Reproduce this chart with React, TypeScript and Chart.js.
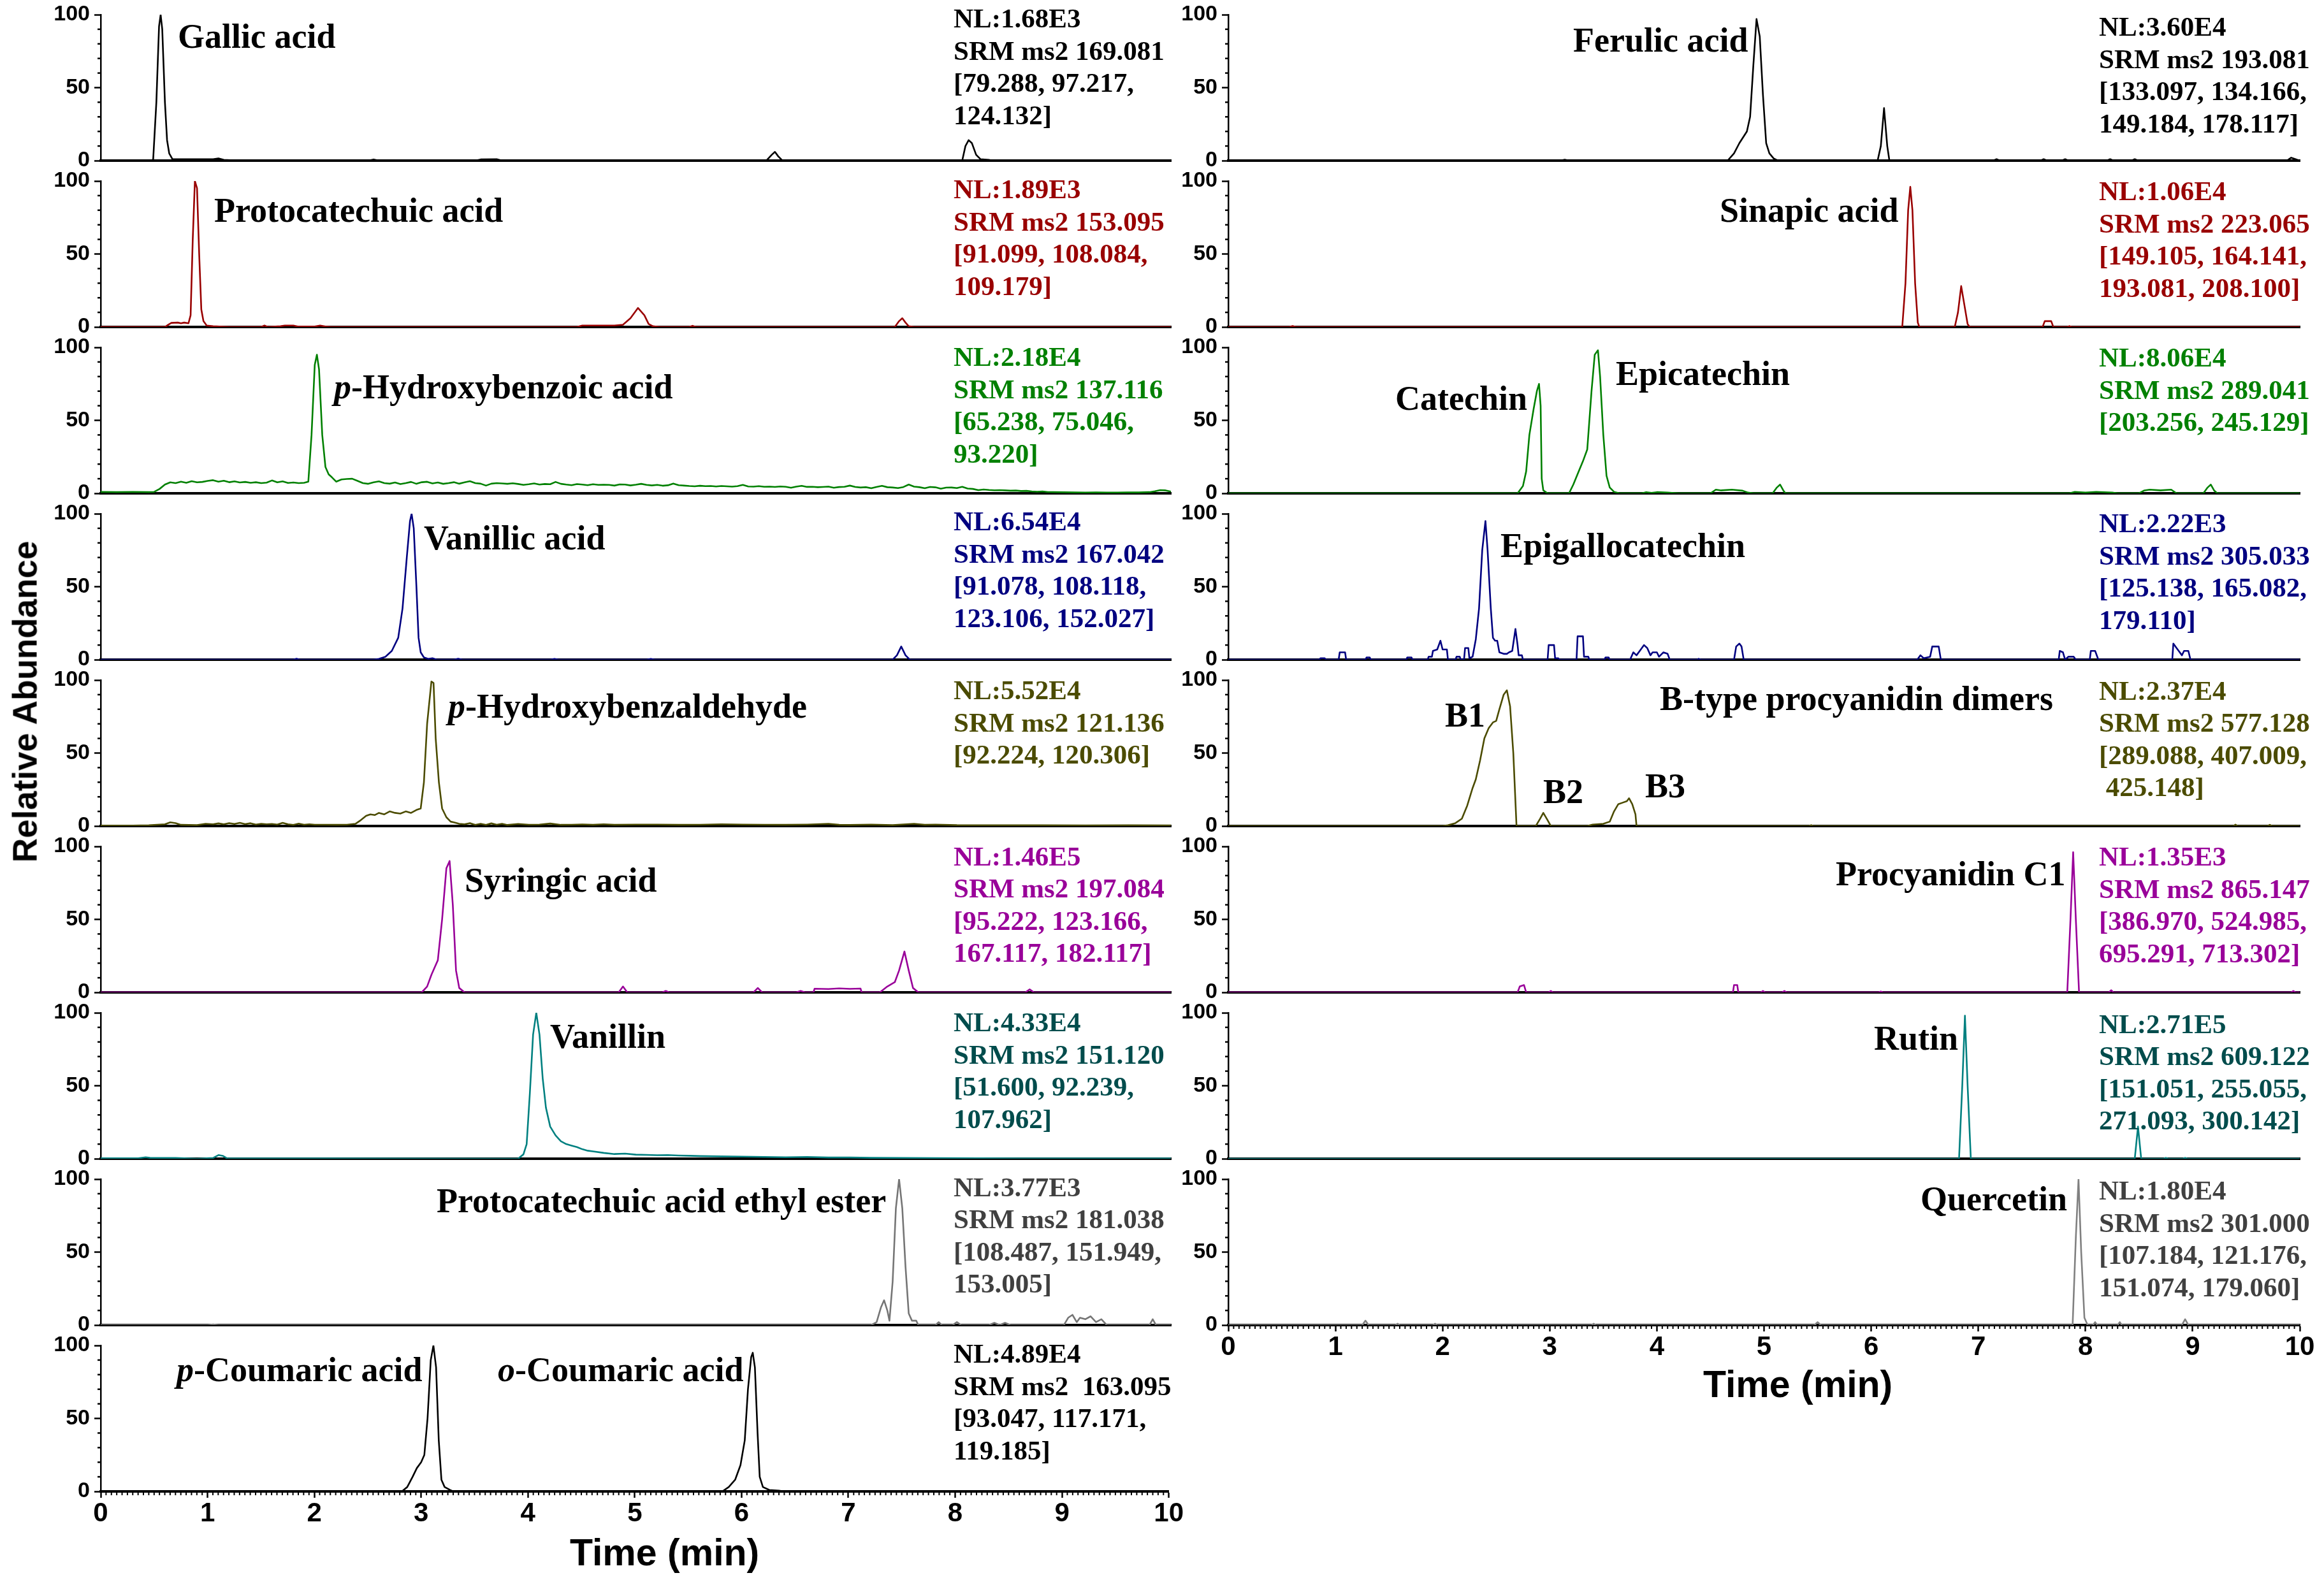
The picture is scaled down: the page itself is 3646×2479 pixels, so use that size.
import React, { useEffect, useRef } from "react";
import { Chart, registerables } from "chart.js";

Chart.register(...registerables);

type Pt = [number, number];

// ---------- DATA (retention time in min, relative abundance in %) ----------
const timeTicks = [0, 1, 2, 3, 4, 5, 6, 7, 8, 9, 10];
const abundanceTicks = [0, 50, 100];

const gallicTrace: Pt[] = [[0,0],[0.45,0],[0.49,0.5],[0.52,40],[0.545,92],[0.56,100],[0.575,90],[0.6,40],[0.62,14],[0.64,5],[0.67,1],[0.9,1],[1.05,1],[1.1,1.5],[1.15,0.5],[1.3,0],[2.5,0],[2.55,0.8],[2.6,0],[3.5,0],[3.55,0.8],[3.7,1],[3.75,0],[6.22,0],[6.27,4],[6.3,6],[6.33,3],[6.37,0],[8.05,0],[8.08,10],[8.11,14],[8.14,12],[8.18,4],[8.22,1],[8.3,0.5],[8.33,0],[10,0]];
const protocatechuicTrace: Pt[] = [[0,0],[0.6,0],[0.63,1.5],[0.66,2.8],[0.72,3],[0.75,2.5],[0.78,3],[0.82,2.5],[0.84,8],[0.86,60],[0.88,100],[0.9,95],[0.92,50],[0.94,12],[0.96,4],[0.99,1],[1.05,0.5],[1.2,0],[1.5,0],[1.53,1],[1.56,0],[1.68,0.5],[1.72,1],[1.8,1],[1.84,0.3],[2.0,0.3],[2.05,1],[2.1,0.3],[2.15,0],[4.45,0],[4.5,1],[4.8,1],[4.88,1.5],[4.95,6],[5.02,13],[5.08,8],[5.12,2],[5.16,0.5],[5.22,0],[5.5,0],[5.53,0.8],[5.56,0],[7.42,0],[7.46,4],[7.49,6],[7.52,3],[7.55,0.5],[7.6,0],[10,0]];
const pHydroxybenzoicTrace: Pt[] = [[0,1],[0.15,0.8],[0.3,1],[0.45,0.8],[0.5,1],[0.55,3],[0.6,6],[0.65,7.5],[0.7,7],[0.75,8],[0.8,7.2],[0.85,8.3],[0.9,7.5],[0.95,7.8],[1.0,8.5],[1.05,9],[1.1,8],[1.15,8.6],[1.2,7.6],[1.25,8.2],[1.3,7.4],[1.35,7.8],[1.4,7.2],[1.45,7.6],[1.5,7.0],[1.55,7.3],[1.6,8.8],[1.65,7.5],[1.7,8.2],[1.75,7.1],[1.8,7.4],[1.85,7.0],[1.9,7.2],[1.94,8],[1.97,40],[2.0,88],[2.02,95],[2.04,85],[2.07,40],[2.1,18],[2.13,13],[2.16,11],[2.2,8],[2.25,9.5],[2.3,9.8],[2.35,10],[2.4,8.5],[2.45,7],[2.5,6.5],[2.55,7.5],[2.6,8.2],[2.65,7.0],[2.7,6.6],[2.75,7.4],[2.8,6.3],[2.85,7.0],[2.9,7.8],[2.95,6.5],[3.0,7.6],[3.05,7.9],[3.1,6.8],[3.15,7.4],[3.2,6.5],[3.25,7.0],[3.3,7.6],[3.35,6.6],[3.4,7.5],[3.45,8.3],[3.5,7.0],[3.55,6.6],[3.6,5.3],[3.65,6.6],[3.7,7.0],[3.75,6.8],[3.8,6.5],[3.85,6.9],[3.9,6.4],[3.95,5.8],[4.0,6.2],[4.05,6.8],[4.1,6.0],[4.15,6.4],[4.2,6.2],[4.25,7.8],[4.3,6.5],[4.35,6.0],[4.4,5.6],[4.45,6.3],[4.5,6.0],[4.55,5.6],[4.6,6.2],[4.65,5.8],[4.7,5.9],[4.75,5.8],[4.8,5.3],[4.85,6.1],[4.9,6.0],[4.95,5.4],[5.0,5.9],[5.05,6.5],[5.1,5.8],[5.15,5.4],[5.2,5.8],[5.25,5.2],[5.3,5.5],[5.35,6.7],[5.4,5.6],[5.45,5.3],[5.5,5.0],[5.55,4.8],[5.6,5.2],[5.65,4.9],[5.7,5.0],[5.75,4.7],[5.8,5.0],[5.85,4.8],[5.9,4.6],[5.95,4.9],[6.0,5.8],[6.05,4.7],[6.1,4.6],[6.15,4.9],[6.2,4.5],[6.25,4.6],[6.3,4.4],[6.35,4.7],[6.4,4.5],[6.45,3.8],[6.5,4.6],[6.55,5.1],[6.6,4.4],[6.65,4.5],[6.7,4.2],[6.75,4.4],[6.8,4.6],[6.85,3.8],[6.9,4.3],[6.95,4.5],[7.0,5.3],[7.05,4.4],[7.1,4.0],[7.15,4.2],[7.2,3.5],[7.25,4.4],[7.3,5.1],[7.35,4.2],[7.4,4.0],[7.45,3.6],[7.5,4.3],[7.55,6.0],[7.6,4.6],[7.65,4.2],[7.7,3.5],[7.75,4.4],[7.8,4.1],[7.85,3.2],[7.9,3.9],[7.95,4.0],[8.0,3.6],[8.05,4.5],[8.1,3.3],[8.15,3.0],[8.2,2.2],[8.25,2.6],[8.3,2.3],[8.35,2.1],[8.4,2.2],[8.45,2.0],[8.5,1.8],[8.55,1.9],[8.6,1.6],[8.65,1.7],[8.7,1.3],[8.75,1.1],[8.8,1.3],[8.85,0.9],[8.9,0.8],[9.0,0.7],[9.1,0.6],[9.2,0.5],[9.3,0.6],[9.4,0.5],[9.5,0.5],[9.6,0.6],[9.7,0.6],[9.8,0.8],[9.85,1.4],[9.9,2.2],[9.95,2.0],[10,1.2]];
const vanillicTrace: Pt[] = [[0,0],[1.8,0],[1.83,0.6],[1.86,0],[2.55,0],[2.6,0.5],[2.66,2],[2.72,6],[2.78,15],[2.82,35],[2.86,70],[2.89,95],[2.905,100],[2.925,90],[2.95,50],[2.97,15],[2.99,5],[3.02,1.5],[3.06,0.5],[3.1,1],[3.14,0],[3.3,0],[3.34,0.6],[3.38,0],[4.2,0],[4.24,0.5],[4.28,0],[5.1,0],[5.14,0.5],[5.18,0],[7.4,0],[7.44,3],[7.48,9],[7.52,3],[7.56,0],[10,0]];
const pHydroxybenzaldehydeTrace: Pt[] = [[0,0.3],[0.3,0.3],[0.45,0.5],[0.6,1.2],[0.65,2.5],[0.7,2],[0.75,0.8],[0.9,0.6],[0.98,1.5],[1.05,1.2],[1.1,1.8],[1.15,1.2],[1.2,2.0],[1.25,1.4],[1.3,2.2],[1.35,1.3],[1.4,1.9],[1.45,1.0],[1.5,1.5],[1.55,1.2],[1.6,1.4],[1.65,1.0],[1.7,2.2],[1.75,1.2],[1.8,0.8],[1.85,1.6],[1.9,0.9],[1.95,1.2],[2.0,0.9],[2.1,0.9],[2.2,0.8],[2.3,0.9],[2.38,1.5],[2.43,4],[2.48,7],[2.52,8],[2.56,7.5],[2.6,9],[2.65,8],[2.7,10],[2.75,9],[2.8,8.5],[2.85,10],[2.9,9],[2.95,11],[2.99,12],[3.02,30],[3.05,70],[3.09,99],[3.11,98],[3.13,60],[3.16,30],[3.19,12],[3.23,6],[3.27,3],[3.3,2.5],[3.35,1.5],[3.4,1.2],[3.45,2],[3.5,0.8],[3.55,1.5],[3.6,0.8],[3.65,1.8],[3.7,0.9],[3.75,1.5],[3.8,0.7],[3.9,1.4],[4.0,0.9],[4.1,1.0],[4.2,1.7],[4.3,0.8],[4.4,0.9],[4.5,1.1],[4.6,0.8],[4.7,1.2],[4.8,0.8],[5.0,1.0],[5.2,1.0],[5.4,0.8],[5.6,0.9],[5.8,1.2],[6.0,1.0],[6.2,0.9],[6.4,0.8],[6.6,1.0],[6.8,1.5],[6.9,0.8],[7.0,0.7],[7.2,1.0],[7.4,0.6],[7.6,1.5],[7.7,0.8],[7.8,1.0],[8.0,0.6],[8.4,0.5],[8.8,0.5],[9.2,0.4],[9.6,0.5],[10,0.4]];
const syringicTrace: Pt[] = [[0,0],[3.0,0],[3.05,4],[3.09,12],[3.12,17],[3.15,22],[3.19,50],[3.23,85],[3.26,90],[3.29,60],[3.32,15],[3.35,3],[3.4,0],[4.84,0],[4.88,4],[4.92,0],[5.25,0],[5.28,1],[5.31,0],[6.1,0],[6.14,3],[6.18,0],[6.5,0],[6.54,1],[6.58,0],[6.66,0],[6.67,2.5],[6.8,2.3],[6.9,2.7],[7.0,2.4],[7.1,2.6],[7.11,0],[7.28,0],[7.35,4],[7.42,7],[7.46,15],[7.51,28],[7.55,15],[7.59,3],[7.64,0],[8.64,0],[8.68,2],[8.72,0],[10,0]];
const vanillinTrace: Pt[] = [[0,0.3],[0.35,0.3],[0.42,1],[0.46,0.6],[0.7,0.5],[0.9,0],[1.05,0.5],[1.1,2.5],[1.14,2],[1.18,0.3],[3.9,0],[3.95,3],[3.98,10],[4.01,45],[4.04,85],[4.07,100],[4.1,85],[4.13,55],[4.16,35],[4.2,22],[4.25,16],[4.3,12],[4.35,10],[4.4,9],[4.45,8],[4.5,6.5],[4.55,5.5],[4.6,5],[4.7,4],[4.8,3.2],[4.9,3.5],[5.0,2.8],[5.1,2.6],[5.2,2.4],[5.3,2.5],[5.4,2.2],[5.5,2.0],[5.6,1.8],[5.8,1.6],[6.0,1.4],[6.2,1.2],[6.4,1.0],[6.6,1.2],[6.8,0.8],[7.0,0.8],[7.2,0.6],[7.5,0.5],[7.8,0.4],[8.2,0.3],[8.6,0.2],[10,0.2]];
const ethylEsterTrace: Pt[] = [[0,0],[1.0,0],[1.05,0.4],[1.1,0],[7.2,0],[7.25,2],[7.29,12],[7.32,17],[7.35,10],[7.37,3],[7.4,30],[7.43,80],[7.46,100],[7.49,80],[7.52,40],[7.55,8],[7.58,3],[7.62,3],[7.64,0],[7.8,0],[7.83,2],[7.86,0],[7.96,0],[8.0,2],[8.04,0],[8.3,0],[8.35,1.5],[8.4,0],[8.45,1.5],[8.5,0],[9.0,0],[9.04,5],[9.08,7],[9.12,2],[9.15,5],[9.2,4],[9.25,6],[9.3,2],[9.35,4],[9.4,0],[9.8,0],[9.83,4],[9.86,0],[10,0]];
const coumaricTrace: Pt[] = [[0,0],[2.82,0],[2.87,3],[2.92,10],[2.96,16],[3.0,20],[3.03,25],[3.06,50],[3.09,90],[3.115,100],[3.14,85],[3.165,35],[3.19,8],[3.22,3],[3.27,1],[3.3,0],[5.82,0],[5.88,3],[5.94,8],[5.99,18],[6.03,35],[6.06,70],[6.09,92],[6.105,95],[6.125,85],[6.15,40],[6.17,10],[6.2,3],[6.26,1],[6.35,0.5],[6.4,0],[10,0]];

const ferulicTrace: Pt[] = [[0,0],[3.1,0],[3.14,0.6],[3.18,0],[4.66,0],[4.72,5],[4.77,12],[4.84,20],[4.87,30],[4.9,65],[4.93,97],[4.96,85],[4.99,45],[5.02,12],[5.05,5],[5.09,1.5],[5.13,0],[6.06,0],[6.09,10],[6.12,36],[6.15,10],[6.17,0],[7.14,0],[7.17,1],[7.2,0],[7.58,0],[7.61,1],[7.64,0],[7.78,0],[7.81,1],[7.84,0],[8.2,0],[8.23,1],[8.26,0],[8.43,0],[8.46,1],[8.49,0],[9.88,0],[9.92,2],[9.96,1],[10,0]];
const sinapicTrace: Pt[] = [[0,0],[0.57,0],[0.6,0.6],[0.63,0],[6.29,0],[6.32,30],[6.345,80],[6.365,96],[6.385,80],[6.41,30],[6.435,3],[6.45,0],[6.78,0],[6.81,10],[6.84,28],[6.87,15],[6.9,2],[6.92,0],[7.6,0],[7.62,4],[7.68,4],[7.7,0],[7.83,0],[7.85,0.6],[7.87,0],[10,0]];
const catechinTrace: Pt[] = [[0,0],[2.7,0],[2.75,5],[2.78,15],[2.81,40],[2.85,58],[2.88,70],[2.9,75],[2.915,60],[2.925,10],[2.94,2],[2.98,0],[3.18,0],[3.22,6],[3.27,15],[3.31,22],[3.35,30],[3.39,70],[3.42,95],[3.45,98],[3.47,80],[3.5,40],[3.53,12],[3.56,4],[3.6,1],[3.65,0],[3.86,0],[3.9,0.8],[3.95,0.3],[4.0,0.8],[4.1,0.5],[4.2,0],[4.5,0],[4.55,2.5],[4.6,2],[4.7,2.5],[4.8,1.8],[4.85,0.5],[4.9,0],[5.08,0],[5.12,4],[5.15,6],[5.18,2],[5.2,0],[7.85,0],[7.9,1],[8.0,0.5],[8.1,1],[8.25,0.5],[8.3,0],[8.5,0],[8.55,2],[8.6,2.5],[8.7,2],[8.8,2.5],[8.85,0],[9.1,0],[9.14,4],[9.17,6],[9.2,2],[9.23,0],[10,0]];
const epigallocatechinTrace: Pt[] = [[0,0],[0.85,0],[0.86,1],[0.9,1],[0.91,0],[1.03,0],[1.04,5],[1.09,5],[1.1,0],[1.28,0],[1.29,1.5],[1.32,1.5],[1.33,0],[1.66,0],[1.67,1.5],[1.71,1.5],[1.72,0],[1.86,0],[1.87,2],[1.9,2],[1.91,6],[1.95,7],[1.98,13],[2.0,7],[2.04,7],[2.05,0],[2.12,0],[2.13,2],[2.16,2],[2.17,0],[2.2,0],[2.21,8],[2.24,8],[2.25,1],[2.28,2],[2.31,14],[2.34,35],[2.37,75],[2.4,95],[2.42,75],[2.45,35],[2.47,15],[2.49,13],[2.51,13],[2.53,5],[2.57,4],[2.6,4],[2.62,5],[2.65,6],[2.68,21],[2.7,10],[2.71,3],[2.74,3],[2.75,0],[2.98,0],[2.99,10],[3.04,10],[3.05,1],[3.08,1],[3.09,0],[3.25,0],[3.26,16],[3.31,16],[3.32,2],[3.36,2],[3.37,0],[3.51,0],[3.52,1.5],[3.55,1.5],[3.56,0],[3.75,0],[3.78,5],[3.81,3],[3.85,7],[3.88,10],[3.91,8],[3.94,3],[3.96,5],[4.0,5],[4.02,2],[4.06,5],[4.1,4],[4.12,0],[4.38,0],[4.39,0.6],[4.41,0],[4.72,0],[4.74,9],[4.77,11],[4.79,9],[4.81,0],[6.43,0],[6.46,3],[6.49,1],[6.55,2],[6.57,9],[6.63,9],[6.65,0],[7.75,0],[7.76,6],[7.79,5],[7.81,0],[7.84,2],[7.89,2],[7.91,0],[8.04,0],[8.05,6],[8.09,6],[8.12,0],[8.81,0],[8.82,11],[8.85,8],[8.87,6],[8.9,3],[8.92,6],[8.96,6],[8.98,0],[10,0]];
const procyanidinBTrace: Pt[] = [[0,0],[2.0,0],[2.05,0.5],[2.12,2],[2.18,5],[2.23,14],[2.28,26],[2.31,32],[2.35,45],[2.39,60],[2.43,67],[2.47,71],[2.5,72],[2.53,80],[2.57,90],[2.6,93],[2.63,82],[2.66,50],[2.69,0],[2.87,0],[2.91,5],[2.94,9],[2.98,4],[3.01,0],[3.35,0],[3.4,1],[3.5,1.5],[3.56,3],[3.6,10],[3.64,15],[3.68,16],[3.72,17],[3.74,19],[3.77,15],[3.8,8],[3.81,0],[5.42,0],[5.44,0.6],[5.46,0],[9.38,0],[9.4,1],[9.42,0],[9.7,0],[9.72,0.8],[9.74,0],[10,0]];
const procyanidinC1Trace: Pt[] = [[0,0],[2.7,0],[2.72,4],[2.76,5],[2.78,0],[2.99,0],[3.01,1],[3.03,0],[4.71,0],[4.72,5],[4.75,5],[4.76,0],[4.97,0],[4.99,1],[5.01,0],[5.17,0],[5.19,1],[5.21,0],[6.07,0],[6.09,0.6],[6.11,0],[7.83,0],[7.86,50],[7.885,96],[7.91,50],[7.94,0],[8.22,0],[8.24,1.5],[8.26,0],[9.92,0],[9.94,1],[9.96,0],[10,0]];
const rutinTrace: Pt[] = [[0,0],[6.82,0],[6.85,50],[6.875,98],[6.9,50],[6.93,0],[8.46,0],[8.49,22],[8.52,0],[8.73,0],[8.75,0.6],[8.77,0],[8.91,0],[8.93,0.6],[8.95,0],[10,0]];
const quercetinTrace: Pt[] = [[0,0],[1.25,0],[1.28,3],[1.31,0],[1.56,0],[1.58,1],[1.6,0],[1.91,0],[1.93,1],[1.95,0],[3.39,0],[3.41,1],[3.43,0],[5.47,0],[5.5,2],[5.53,0],[7.88,0],[7.91,60],[7.935,100],[7.96,50],[7.99,5],[8.02,0],[8.07,0],[8.09,2],[8.11,0],[8.3,0],[8.32,2],[8.34,0],[8.9,0],[8.93,4],[8.96,0],[10,0]];

// ---------- LAYOUT ----------
const PAGE_W = 3646;
const PAGE_H = 2479;
const COL_X = [158, 1927];
const COL_W = [1679, 1681];
const INFO_X = [1496, 3293];
const ROW_TOP = 22.5;
const ROW_STEP = 261.1;
const PLOT_H = 229;
const YW = 110;
const PT = 30;
const SERIF = "'Liberation Serif', 'Times New Roman', serif";
const SANS = "'Liberation Sans', Arial, Helvetica, sans-serif";

type Label = { text: string; x: number; y: number; pre?: string };
type PanelSpec = {
  col: number;
  row: number;
  trace: Pt[];
  color: string;
  textColor: string;
  info: string[];
  infoDy: number;
  labels: Label[];
  bottom?: boolean;
};

const panels: PanelSpec[] = [
  { col: 0, row: 0, trace: gallicTrace, color: "#000000", textColor: "#000000", infoDy: 20,
    info: ["NL:1.68E3", "SRM ms2 169.081", "[79.288, 97.217,", "124.132]"],
    labels: [{ text: "Gallic acid", x: 279, y: 74 }] },
  { col: 0, row: 1, trace: protocatechuicTrace, color: "#990000", textColor: "#990000", infoDy: 27,
    info: ["NL:1.89E3", "SRM ms2 153.095", "[91.099, 108.084,", "109.179]"],
    labels: [{ text: "Protocatechuic acid", x: 336, y: 348 }] },
  { col: 0, row: 2, trace: pHydroxybenzoicTrace, color: "#008000", textColor: "#008000", infoDy: 29,
    info: ["NL:2.18E4", "SRM ms2 137.116", "[65.238, 75.046,", "93.220]"],
    labels: [{ pre: "p", text: "-Hydroxybenzoic acid", x: 524, y: 625 }] },
  { col: 0, row: 3, trace: vanillicTrace, color: "#000080", textColor: "#000080", infoDy: 26,
    info: ["NL:6.54E4", "SRM ms2 167.042", "[91.078, 108.118,", "123.106, 152.027]"],
    labels: [{ text: "Vanillic acid", x: 665, y: 862 }] },
  { col: 0, row: 4, trace: pHydroxybenzaldehydeTrace, color: "#4b4b00", textColor: "#4b4b00", infoDy: 30,
    info: ["NL:5.52E4", "SRM ms2 121.136", "[92.224, 120.306]"],
    labels: [{ pre: "p", text: "-Hydroxybenzaldehyde", x: 703, y: 1126 }] },
  { col: 0, row: 5, trace: syringicTrace, color: "#990099", textColor: "#990099", infoDy: 29.5,
    info: ["NL:1.46E5", "SRM ms2 197.084", "[95.222, 123.166,", "167.117, 182.117]"],
    labels: [{ text: "Syringic acid", x: 729, y: 1399 }] },
  { col: 0, row: 6, trace: vanillinTrace, color: "#008080", textColor: "#004c4c", infoDy: 29,
    info: ["NL:4.33E4", "SRM ms2 151.120", "[51.600, 92.239,", "107.962]"],
    labels: [{ text: "Vanillin", x: 863, y: 1644 }] },
  { col: 0, row: 7, trace: ethylEsterTrace, color: "#757575", textColor: "#404040", infoDy: 26.5,
    info: ["NL:3.77E3", "SRM ms2 181.038", "[108.487, 151.949,", "153.005]"],
    labels: [{ text: "Protocatechuic acid ethyl ester", x: 685, y: 1902 }] },
  { col: 0, row: 8, trace: coumaricTrace, color: "#000000", textColor: "#000000", infoDy: 27, bottom: true,
    info: ["NL:4.89E4", "SRM ms2  163.095", "[93.047, 117.171,", "119.185]"],
    labels: [{ pre: "p", text: "-Coumaric acid", x: 277, y: 2167 }, { pre: "o", text: "-Coumaric acid", x: 781, y: 2167 }] },

  { col: 1, row: 0, trace: ferulicTrace, color: "#000000", textColor: "#000000", infoDy: 33,
    info: ["NL:3.60E4", "SRM ms2 193.081", "[133.097, 134.166,", "149.184, 178.117]"],
    labels: [{ text: "Ferulic acid", x: 2468, y: 80 }] },
  { col: 1, row: 1, trace: sinapicTrace, color: "#990000", textColor: "#990000", infoDy: 30,
    info: ["NL:1.06E4", "SRM ms2 223.065", "[149.105, 164.141,", "193.081, 208.100]"],
    labels: [{ text: "Sinapic acid", x: 2698, y: 348 }] },
  { col: 1, row: 2, trace: catechinTrace, color: "#008000", textColor: "#008000", infoDy: 30,
    info: ["NL:8.06E4", "SRM ms2 289.041", "[203.256, 245.129]"],
    labels: [{ text: "Catechin", x: 2189, y: 643 }, { text: "Epicatechin", x: 2535, y: 604 }] },
  { col: 1, row: 3, trace: epigallocatechinTrace, color: "#000080", textColor: "#000080", infoDy: 29,
    info: ["NL:2.22E3", "SRM ms2 305.033", "[125.138, 165.082,", "179.110]"],
    labels: [{ text: "Epigallocatechin", x: 2354, y: 874 }] },
  { col: 1, row: 4, trace: procyanidinBTrace, color: "#4b4b00", textColor: "#4b4b00", infoDy: 30.5,
    info: ["NL:2.37E4", "SRM ms2 577.128", "[289.088, 407.009,", " 425.148]"],
    labels: [{ text: "B1", x: 2267, y: 1140 }, { text: "B-type procyanidin dimers", x: 2604, y: 1114 }, { text: "B2", x: 2421, y: 1260 }, { text: "B3", x: 2581, y: 1251 }] },
  { col: 1, row: 5, trace: procyanidinC1Trace, color: "#990099", textColor: "#990099", infoDy: 30,
    info: ["NL:1.35E3", "SRM ms2 865.147", "[386.970, 524.985,", "695.291, 713.302]"],
    labels: [{ text: "Procyanidin C1", x: 2880, y: 1389 }] },
  { col: 1, row: 6, trace: rutinTrace, color: "#008080", textColor: "#004c4c", infoDy: 31.5,
    info: ["NL:2.71E5", "SRM ms2 609.122", "[151.051, 255.055,", "271.093, 300.142]"],
    labels: [{ text: "Rutin", x: 2940, y: 1647 }] },
  { col: 1, row: 7, trace: quercetinTrace, color: "#808080", textColor: "#404040", infoDy: 32, bottom: true,
    info: ["NL:1.80E4", "SRM ms2 301.000", "[107.184, 121.176,", "151.074, 179.060]"],
    labels: [{ text: "Quercetin", x: 3013, y: 1899 }] },
];

function PanelChart({ spec }: { spec: PanelSpec }) {
  const ref = useRef<HTMLCanvasElement>(null);
  const plotLeft = COL_X[spec.col];
  const plotW = COL_W[spec.col];
  const plotTop = ROW_TOP + spec.row * ROW_STEP;
  const rp = spec.col === 0 ? 20 : PAGE_W - (plotLeft + plotW);
  const xh = spec.bottom ? 72 : 30;
  const left = plotLeft - YW;
  const top = plotTop - PT;
  const cw = YW + plotW + rp;
  const ch = PT + PLOT_H + xh;

  useEffect(() => {
    const canvas = ref.current;
    if (!canvas) return;
    const decor = {
      id: "decor",
      afterDraw(chart: any) {
        const { ctx, chartArea, scales } = chart;
        ctx.save();
        ctx.strokeStyle = "#000";
        ctx.lineWidth = 2.5;
        const ys = scales.y;
        for (let v = 10; v < 100; v += 10) {
          if (v === 50) continue;
          const y = ys.getPixelForValue(v);
          ctx.beginPath();
          ctx.moveTo(chartArea.left - 5, y);
          ctx.lineTo(chartArea.left, y);
          ctx.stroke();
        }
        if (spec.bottom) {
          const xs = scales.x;
          ctx.lineWidth = 2;
          for (let k = 1; k < 200; k++) {
            if (k % 20 === 0) continue;
            const x = xs.getPixelForValue(k / 20);
            ctx.beginPath();
            ctx.moveTo(x, chartArea.bottom);
            ctx.lineTo(x, chartArea.bottom + 6);
            ctx.stroke();
          }
        }
        ctx.textAlign = "left";
        ctx.textBaseline = "alphabetic";
        ctx.fillStyle = "#000";
        for (const lb of spec.labels) {
          let x = lb.x - left;
          const y = lb.y - top;
          if (lb.pre) {
            ctx.font = `italic bold 54px ${SERIF}`;
            ctx.fillText(lb.pre, x, y);
            x += ctx.measureText(lb.pre).width;
          }
          ctx.font = `bold 54px ${SERIF}`;
          ctx.fillText(lb.text, x, y);
        }
        ctx.fillStyle = spec.textColor;
        ctx.font = `bold 43px ${SERIF}`;
        spec.info.forEach((line, i) => {
          ctx.fillText(line, INFO_X[spec.col] - left, plotTop + spec.infoDy + i * 50.5 - top);
        });
        ctx.restore();
      },
    };

    const chart = new Chart(canvas, {
      type: "line",
      data: {
        datasets: [
          {
            data: spec.trace.map(([x, y]) => ({ x, y })),
            borderColor: spec.color,
            borderWidth: 2.6,
            pointRadius: 0,
            fill: false,
            tension: 0,
            borderJoinStyle: "round",
          } as any,
        ],
      },
      options: {
        animation: false,
        responsive: false,
        maintainAspectRatio: false,
        devicePixelRatio: 1,
        events: [],
        layout: { padding: { top: PT, right: rp, left: 0, bottom: 0 } },
        plugins: { legend: { display: false }, tooltip: { enabled: false }, title: { display: false } },
        scales: {
          x: {
            type: "linear",
            min: 0,
            max: 10,
            afterFit: (s: any) => { s.height = xh; },
            border: { display: true, color: "#000", width: 4 },
            grid: { display: !!spec.bottom, drawOnChartArea: false, drawTicks: !!spec.bottom, tickLength: 10, tickWidth: 2.5, tickColor: "#000" },
            afterBuildTicks: (s: any) => { s.ticks = timeTicks.map((v) => ({ value: v })); },
            ticks: {
              display: !!spec.bottom,
              autoSkip: false,
              maxRotation: 0,
              padding: 0,
              color: "#000",
              font: { family: SANS, size: 42, weight: "bold" },
            },
          },
          y: {
            min: 0,
            max: 100,
            afterFit: (s: any) => { s.width = YW; },
            border: { display: true, color: "#000", width: 2.5 },
            grid: { drawOnChartArea: false, drawTicks: true, tickLength: 10, tickWidth: 2.5, tickColor: "#000" },
            afterBuildTicks: (s: any) => { s.ticks = abundanceTicks.map((v) => ({ value: v })); },
            ticks: {
              padding: 7,
              color: "#000",
              font: { family: SANS, size: 34, weight: "bold" },
            },
          },
        },
      } as any,
      plugins: [decor as any],
    });
    return () => chart.destroy();
  }, []);

  return (
    <canvas
      ref={ref}
      width={cw}
      height={ch}
      style={{ position: "absolute", left, top, width: cw, height: ch }}
    />
  );
}

export default function App() {
  return (
    <div style={{ position: "absolute", left: 0, top: 0, width: PAGE_W, height: PAGE_H, background: "#fff", overflow: "hidden" }}>
      {panels.map((p, i) => (
        <PanelChart key={i} spec={p} />
      ))}
      <div
        style={{
          position: "absolute", left: 39, top: 1101, transform: "translate(-50%, -50%) rotate(-90deg)",
          font: `bold 53px ${SANS}`, lineHeight: "53px", whiteSpace: "nowrap", color: "#000",
        }}
      >
        Relative Abundance
      </div>
      <div style={{ position: "absolute", left: 894, top: 2457 - 50, font: `bold 59px ${SANS}`, lineHeight: "59px", whiteSpace: "nowrap", color: "#000" }}>
        Time (min)
      </div>
      <div style={{ position: "absolute", left: 2672, top: 2193 - 50, font: `bold 59px ${SANS}`, lineHeight: "59px", whiteSpace: "nowrap", color: "#000" }}>
        Time (min)
      </div>
    </div>
  );
}
